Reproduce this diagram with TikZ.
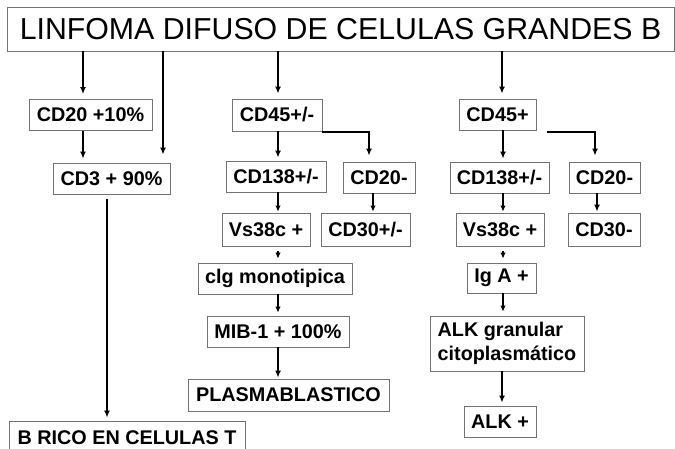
\documentclass[tikz,border=0pt]{standalone}
\usepackage{fontspec}
\setmainfont{Liberation Sans}
\usetikzlibrary{arrows.meta}
\begin{document}
\begin{tikzpicture}[x=1pt,y=-1pt,
  box/.style={draw=black!55,line width=0.8pt,inner sep=0pt,minimum height=31pt,
    font=\bfseries\fontsize{19.8}{24}\selectfont},
  arr/.style={line width=1.8pt,-{Latex[length=7pt,width=6pt]}},
  thin/.style={line width=1.2pt,-{Latex[length=6pt,width=5.5pt]}}]
\useasboundingbox (0,0) rectangle (675,449);
\clip (0,0) rectangle (675,449);
\node [box,minimum width=667pt,minimum height=44pt,font=\fontsize{30.3}{32}\selectfont] (title) at (340.5,29) {LINFOMA DIFUSO DE CELULAS GRANDES B};
% left column
\node [box,minimum width=123pt] (cdA) at (90.5,115) {CD20 +10\%};
\node [box,minimum width=117pt] (cdB) at (111.5,178.5) {CD3 + 90\%};
\node [box,minimum width=236pt,minimum height=34pt] (rico) at (127,438) {B RICO EN CELULAS T};
% middle column
\node [box,minimum width=90pt,minimum height=32pt] (mA) at (277,115) {CD45+/-};
\node [box,minimum width=100pt] (mB) at (276,176.5) {CD138+/-};
\node [box,minimum width=72pt] (mC) at (379,177.5) {CD20-};
\node [box,minimum width=88pt,minimum height=33pt] (mD) at (266,229.5) {Vs38c +};
\node [box,minimum width=89pt,minimum height=33pt] (mE) at (365.5,229.5) {CD30+/-};
\node [box,minimum width=154pt] (mF) at (275,278.5) {clg monotipica};
\node [box,minimum width=142pt] (mG) at (278,331.5) {MIB-1 + 100\%};
\node [box,minimum width=201pt,minimum height=32pt] (mH) at (288.5,395) {PLASMABLASTICO};
% right column
\node [box,minimum width=77pt] (rA) at (497.5,114.5) {CD45+};
\node [box,minimum width=99pt] (rB) at (499.5,177.5) {CD138+/-};
\node [box,minimum width=71pt] (rC) at (604.5,177.5) {CD20-};
\node [box,minimum width=88pt,minimum height=33pt] (rD) at (500,229.5) {Vs38c +};
\node [box,minimum width=72pt,minimum height=33pt] (rE) at (604,229.5) {CD30-};
\node [box,minimum width=69pt,minimum height=30pt] (rF) at (501.5,278) {Ig A +};
\node [box,minimum width=154pt,minimum height=55pt,align=left] (rG) at (507,343.5) {ALK granular\\citoplasm\'atico};
\node [box,minimum width=72pt] (rH) at (500,421.5) {ALK +};
% arrows
\draw [arr,shorten >=5pt] ([xshift=-7.5pt]cdA.north |- title.south) -- ([xshift=-7.5pt]cdA.north);
\draw [arr,shorten >=8pt] ([xshift=51.5pt]cdB.north |- title.south) -- ([xshift=51.5pt]cdB.north);
\draw [arr,shorten >=5pt] ([xshift=1pt]mA.north |- title.south) -- ([xshift=1pt]mA.north);
\draw [arr,shorten >=5pt] ([xshift=4.5pt]rA.north |- title.south) -- ([xshift=4.5pt]rA.north);
\draw [arr,shorten >=4pt] ([xshift=-7.5pt]cdA.south) -- ([xshift=-7.5pt]cdA.south |- cdB.north);
\draw [arr,shorten <=5pt,shorten >=3pt] ([xshift=-4.5pt]cdB.south) -- ([xshift=-4.5pt]cdB.south |- rico.north);
\draw [arr,shorten >=3pt] ([xshift=1pt]mA.south) -- ([xshift=1pt]mA.south |- mB.north);
\draw [arr,shorten >=6pt] ([yshift=-1pt]mA.south east) -| ([xshift=-10pt]mC.north);
\draw [thin,shorten >=1pt] ([xshift=2pt]mB.south) -- ([xshift=2pt]mB.south |- mD.north);
\draw [thin,shorten >=1pt] ([xshift=-6pt]mC.south) -- ([xshift=-6pt]mC.south |- mE.north);
\draw [thin,shorten <=5pt,shorten >=4pt] ([xshift=12pt]mD.south) -- ([xshift=12pt]mD.south |- mF.north);
\draw [thin,shorten >=3pt] ([xshift=3pt]mF.south) -- ([xshift=3pt]mF.south |- mG.north);
\draw [arr,shorten >=1pt] (mG.south) -- (mG.south |- mH.north);
\draw [arr,shorten >=3pt] ([xshift=5.5pt]rA.south) -- ([xshift=5.5pt]rA.south |- rB.north);
\draw [arr,shorten >=6pt] ([xshift=11pt,yshift=-2pt]rA.south east) -| ([xshift=-9.5pt]rC.north);
\draw [thin,shorten >=1pt] ([xshift=3.5pt]rB.south) -- ([xshift=3.5pt]rB.south |- rD.north);
\draw [arr,shorten >=1pt] ([xshift=-7.5pt]rC.south) -- ([xshift=-7.5pt]rC.south |- rE.north);
\draw [thin,shorten <=5pt,shorten >=4pt] ([xshift=3pt]rD.south) -- ([xshift=3pt]rD.south |- rF.north);
\draw [thin,shorten >=4pt] ([xshift=1.5pt]rF.south) -- ([xshift=1.5pt]rF.south |- rG.north);
\draw [arr,shorten >=3pt] ([xshift=-5pt]rG.south) -- ([xshift=-5pt]rG.south |- rH.north);
\end{tikzpicture}
\end{document}
